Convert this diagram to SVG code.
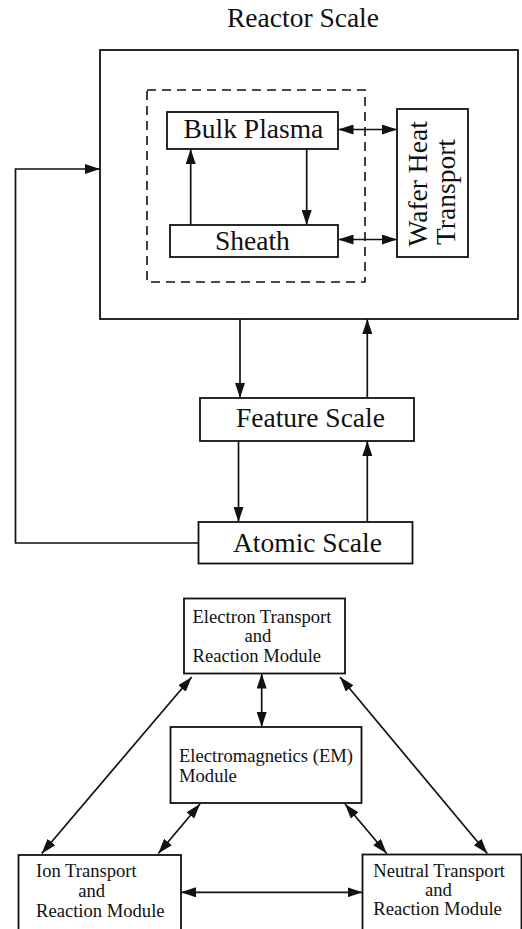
<svg xmlns="http://www.w3.org/2000/svg" width="522" height="929" viewBox="0 0 522 929">
  <defs>
    <marker id="arrow" markerUnits="userSpaceOnUse" markerWidth="15" markerHeight="10" refX="15" refY="5" orient="auto-start-reverse" viewBox="0 0 15 10">
      <path d="M0,0 L15,5 L0,10 z" fill="#111"/>
    </marker>
  </defs>
  <style>
    .box { fill: #fff; stroke: #111; stroke-width: 1.8; }
    .dash { fill: none; stroke: #111; stroke-width: 1.6; stroke-dasharray: 9 6; }
    .ln { fill: none; stroke: #111; stroke-width: 1.7; }
    .one { marker-end: url(#arrow); }
    .two { marker-start: url(#arrow); marker-end: url(#arrow); }
    .big { font-family: "Liberation Serif", "Times New Roman", serif; font-size: 27.5px; fill: #111; }
    .small { font-family: "Liberation Serif", "Times New Roman", serif; font-size: 18.6px; fill: #111; }
  </style>
  <rect width="522" height="929" fill="#fff"/>

  <!-- upper figure: multi-scale coupling -->
  <g id="reactor-scale">
    <rect class="box" x="100" y="50" width="418" height="269"/>
    <text class="big" x="303" y="27" text-anchor="middle">Reactor Scale</text>
  </g>
  <g id="plasma-group">
    <rect class="dash" x="147" y="90" width="218" height="192"/>
  </g>
  <g id="bulk-plasma">
    <rect class="box" x="167" y="112" width="171" height="37"/>
    <text class="big" x="183.5" y="137.5">Bulk Plasma</text>
  </g>
  <g id="sheath">
    <rect class="box" x="170" y="225" width="168" height="32"/>
    <text class="big" x="215" y="250">Sheath</text>
  </g>
  <g id="wafer-heat-transport">
    <rect class="box" x="397" y="109" width="71" height="148"/>
    <g transform="translate(427,246.5) rotate(-90)">
      <text class="big" x="0" y="0">Wafer Heat</text>
      <text class="big" x="1.5" y="28">Transport</text>
    </g>
  </g>
  <g id="feature-scale">
    <rect class="box" x="200" y="398" width="214" height="43"/>
    <text class="big" x="236" y="426.5">Feature Scale</text>
  </g>
  <g id="atomic-scale">
    <rect class="box" x="198.5" y="522" width="214" height="41.5"/>
    <text class="big" x="233" y="551.5">Atomic Scale</text>
  </g>

  <!-- lower figure: plasma model modules -->
  <g id="electron-module">
    <rect class="box" x="184" y="598.5" width="161" height="75"/>
    <text class="small" x="192.5" y="622.5">Electron Transport</text>
    <text class="small" x="244.5" y="642.3">and</text>
    <text class="small" x="192.5" y="661.7">Reaction Module</text>
  </g>
  <g id="em-module">
    <rect class="box" x="170.5" y="727" width="191" height="76"/>
    <text class="small" x="179" y="761.7">Electromagnetics (EM)</text>
    <text class="small" x="179" y="781.7">Module</text>
  </g>
  <g id="ion-module">
    <rect class="box" x="18.5" y="855" width="162.5" height="80"/>
    <text class="small" x="36" y="877.3">Ion Transport</text>
    <text class="small" x="78.3" y="897.3">and</text>
    <text class="small" x="36" y="916.7">Reaction Module</text>
  </g>
  <g id="neutral-module">
    <rect class="box" x="362.5" y="854.5" width="159" height="80"/>
    <text class="small" x="373.3" y="876.7">Neutral Transport</text>
    <text class="small" x="425" y="896">and</text>
    <text class="small" x="373.3" y="915">Reaction Module</text>
  </g>

  <g id="connectors">
    <!-- inside the reactor -->
    <line class="ln two" x1="338.5" y1="129.5" x2="397" y2="129.5"/>
    <line class="ln two" x1="338.5" y1="239.5" x2="397" y2="239.5"/>
    <line class="ln one" x1="306.7" y1="149" x2="306.7" y2="225"/>
    <line class="ln one" x1="190.7" y1="225" x2="190.7" y2="149"/>
    <!-- between scales -->
    <line class="ln one" x1="240" y1="319" x2="240" y2="398"/>
    <line class="ln one" x1="367.3" y1="398" x2="367.3" y2="319"/>
    <line class="ln one" x1="238.5" y1="441" x2="238.5" y2="522"/>
    <line class="ln one" x1="367.3" y1="522" x2="367.3" y2="441"/>
    <polyline class="ln one" points="198.5,543 15.5,543 15.5,169 100,169"/>
    <!-- between modules -->
    <line class="ln two" x1="261.7" y1="673.5" x2="261.7" y2="727"/>
    <line class="ln two" x1="191.7" y1="677" x2="41.7" y2="853.5"/>
    <line class="ln two" x1="340" y1="677" x2="487.3" y2="853.5"/>
    <line class="ln two" x1="200" y1="804" x2="158.3" y2="853.5"/>
    <line class="ln two" x1="345" y1="804" x2="386.7" y2="853.5"/>
    <line class="ln two" x1="181" y1="892.3" x2="362.5" y2="892.3"/>
  </g>
</svg>
